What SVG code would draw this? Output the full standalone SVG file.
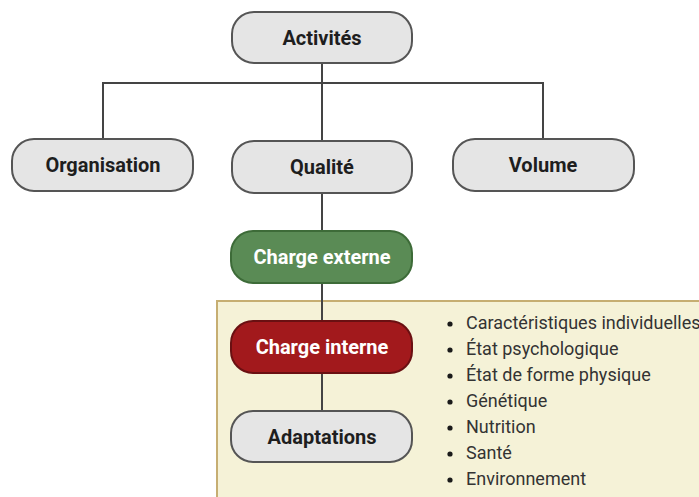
<svg xmlns="http://www.w3.org/2000/svg" width="699" height="497" viewBox="0 0 699 497">
<style>
.node rect{stroke-width:2}
.grey rect{fill:#e5e5e5;stroke:#555}
.grey text{fill:#1e1e1e}
.lbl{font-family:Roboto,"Liberation Sans",sans-serif;font-weight:bold;font-size:20px;text-anchor:middle;dominant-baseline:central}
.wh{fill:#ffffff}
.edge{stroke:#444;stroke-width:2;fill:none}
.li{font-family:Roboto,"Liberation Sans",sans-serif;font-size:18px;fill:#333}
.dot{fill:#1a1a1a}
</style>
<rect width="699" height="497" fill="#ffffff"/>
<g id="panel">
<rect x="217" y="301" width="490" height="210" fill="#f5f2d7" stroke="#c6ae72" stroke-width="2"/>
</g>
<g id="connectors">
<path class="edge" d="M322 63 V141"/>
<path class="edge" d="M103 139 V83 H543 V139"/>
<path class="edge" d="M322 193 V231"/>
<path class="edge" d="M322 283 V321"/>
<path class="edge" d="M322 373 V411"/>
</g>
<g id="activites" class="node grey">
<rect x="232" y="12" width="180" height="51" rx="22"/>
<text class="lbl" x="322" y="38">Activités</text>
</g>
<g id="organisation" class="node grey">
<rect x="12" y="139" width="181" height="52" rx="22"/>
<text class="lbl" x="103" y="165">Organisation</text>
</g>
<g id="qualite" class="node grey">
<rect x="232" y="141" width="180" height="52" rx="22"/>
<text class="lbl" x="322" y="167">Qualité</text>
</g>
<g id="volume" class="node grey">
<rect x="453" y="139" width="181" height="52" rx="22"/>
<text class="lbl" x="543" y="165">Volume</text>
</g>
<g id="charge-externe" class="node">
<rect x="231" y="231" width="181" height="52" rx="22" fill="#5a8b55" stroke="#3d6b38"/>
<text class="lbl wh" x="322" y="257">Charge externe</text>
</g>
<g id="charge-interne" class="node">
<rect x="231" y="321" width="181" height="52" rx="22" fill="#a2191c" stroke="#6a1012"/>
<text class="lbl wh" x="322" y="347">Charge interne</text>
</g>
<g id="adaptations" class="node grey">
<rect x="231" y="411" width="181" height="51" rx="22"/>
<text class="lbl" x="322" y="437">Adaptations</text>
</g>
<g id="list">
<circle class="dot" cx="450" cy="324" r="2.6"/>
<text class="li" x="466" y="329">Caractéristiques individuelles</text>
<circle class="dot" cx="450" cy="350" r="2.6"/>
<text class="li" x="466" y="355">État psychologique</text>
<circle class="dot" cx="450" cy="376" r="2.6"/>
<text class="li" x="466" y="381">État de forme physique</text>
<circle class="dot" cx="450" cy="402" r="2.6"/>
<text class="li" x="466" y="407">Génétique</text>
<circle class="dot" cx="450" cy="428" r="2.6"/>
<text class="li" x="466" y="433">Nutrition</text>
<circle class="dot" cx="450" cy="454" r="2.6"/>
<text class="li" x="466" y="459">Santé</text>
<circle class="dot" cx="450" cy="480" r="2.6"/>
<text class="li" x="466" y="485">Environnement</text>
</g>
</svg>
